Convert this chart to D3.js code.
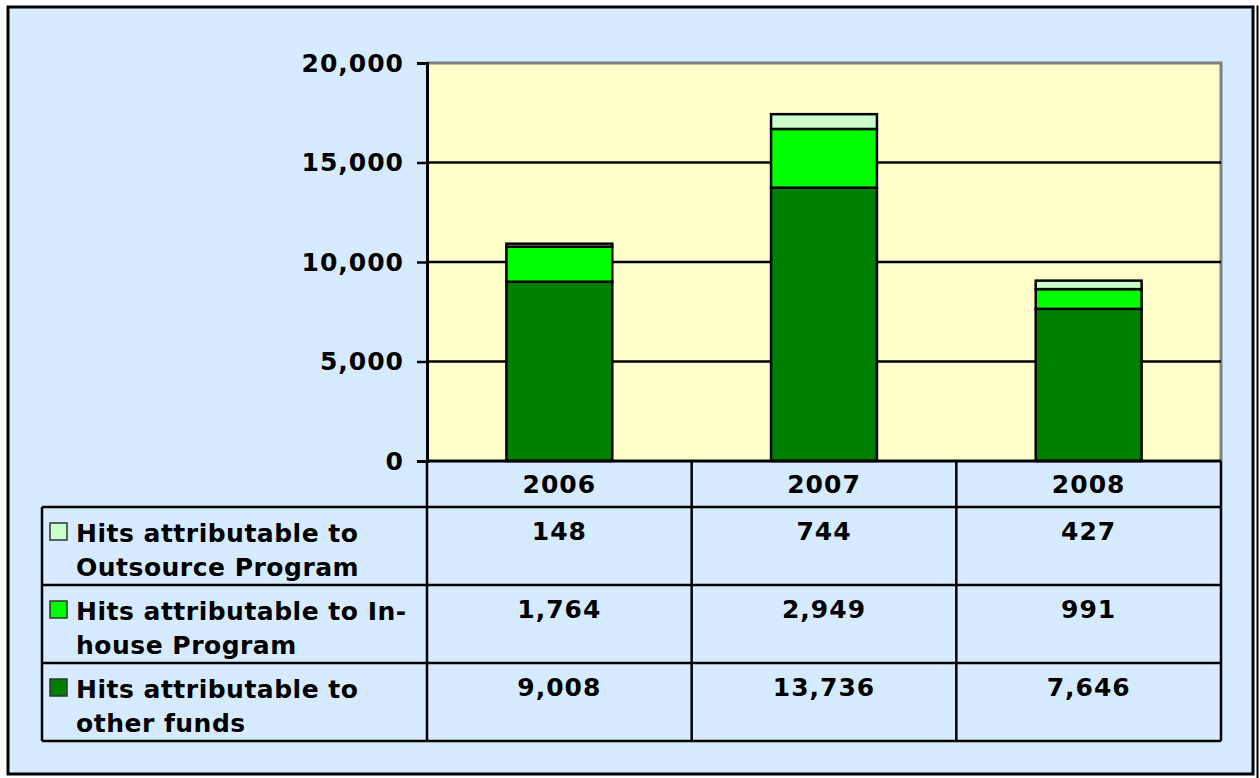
<!DOCTYPE html>
<html>
<head>
<meta charset="utf-8">
<script src="https://cdn.jsdelivr.net/npm/d3@7"></script>
<style>
  html, body { margin: 0; padding: 0; background: #ffffff; }
  svg { display: block; }
  text { font-family: "DejaVu Sans", Verdana, sans-serif; font-weight: bold; fill: #000; }
</style>
</head>
<body>
<svg id="chart" width="1260" height="778"></svg>
<script>
// ---- Data ----
const years = ["2006", "2007", "2008"];
const seriesNames = [
  ["Hits attributable to", "Outsource Program"],
  ["Hits attributable to In-", "house Program"],
  ["Hits attributable to", "other funds"]
];
const outsource = [148, 744, 427];
const inhouse = [1764, 2949, 991];
const otherFunds = [9008, 13736, 7646];
const yTicks = [0, 5000, 10000, 15000, 20000];
const seriesColors = ["#CCFFCC", "#00FF00", "#008000"];

// ---- Layout ----
const svg = d3.select("#chart");
const plot = { left: 427, right: 1221, top: 63, bottom: 461 };
const table = { left: 42, headerBottom: 507, rowH: 78 };

// outer frame
svg.append("rect").attr("x", 8).attr("y", 7).attr("width", 1245).attr("height", 767)
  .attr("fill", "#D6EBFF").attr("stroke", "#000").attr("stroke-width", 3);
svg.append("line").attr("x1", 1257.5).attr("x2", 1257.5).attr("y1", 5.5).attr("y2", 778)
  .attr("stroke", "#000").attr("stroke-width", 2);

const x = d3.scaleBand().domain(years).range([plot.left, plot.right])
  .paddingInner(0.6).paddingOuter(0.3);
const xCol = d3.scaleBand().domain(years).range([plot.left, plot.right]);
const y = d3.scaleLinear().domain([0, 20000]).range([plot.bottom, plot.top]);

// plot area
svg.append("rect").attr("x", plot.left).attr("y", plot.top)
  .attr("width", plot.right - plot.left).attr("height", plot.bottom - plot.top)
  .attr("fill", "#FFFFCC");
svg.append("path")
  .attr("d", `M${plot.left},${plot.top}H${plot.right}V${plot.bottom}`)
  .attr("fill", "none").attr("stroke", "#808080").attr("stroke-width", 3);

// gridlines
svg.append("g").selectAll("line").data(yTicks.filter(d => d > 0 && d < 20000)).join("line")
  .attr("x1", plot.left).attr("x2", plot.right)
  .attr("y1", d => y(d)).attr("y2", d => y(d))
  .attr("stroke", "#000").attr("stroke-width", 2.5);

// stacked bars
const rows = years.map((yr, i) => ({ year: yr, other: otherFunds[i], inhouse: inhouse[i], outsource: outsource[i] }));
const stack = d3.stack().keys(["other", "inhouse", "outsource"]);
const stacked = stack(rows);
const colorByKey = { other: seriesColors[2], inhouse: seriesColors[1], outsource: seriesColors[0] };
svg.append("g").selectAll("g").data(stacked).join("g")
  .attr("fill", d => colorByKey[d.key])
  .selectAll("rect").data(d => d).join("rect")
  .attr("x", d => x(d.data.year))
  .attr("width", x.bandwidth())
  .attr("y", d => y(d[1]))
  .attr("height", d => y(d[0]) - y(d[1]))
  .attr("stroke", "#000").attr("stroke-width", 2.5);

// y axis
const yAxis = d3.axisLeft(y).tickValues(yTicks).tickSize(10).tickPadding(13)
  .tickFormat(d3.format(","));
const ya = svg.append("g").attr("transform", `translate(${plot.left},0)`).call(yAxis);
ya.select(".domain").attr("stroke", "#000").attr("stroke-width", 3);
ya.selectAll(".tick line").attr("stroke", "#000").attr("stroke-width", 2.5);
ya.selectAll(".tick text").attr("font-size", 25).attr("font-family", "DejaVu Sans")
  .attr("font-weight", "bold").attr("fill", "#000").attr("letter-spacing", 1);

// ---- data table ----
const tbl = svg.append("g");
const tableBottom = table.headerBottom + 3 * table.rowH;
const lineAttr = sel => sel.attr("stroke", "#000").attr("stroke-width", 2.5);

// header year labels
tbl.selectAll("text.yr").data(years).join("text").attr("class", "yr")
  .attr("x", d => xCol(d) + xCol.bandwidth() / 2).attr("y", (plot.bottom + table.headerBottom) / 2 + 9)
  .attr("text-anchor", "middle").attr("font-size", 25).attr("letter-spacing", 1).text(d => d);

const tableSeries = [outsource, inhouse, otherFunds];
tableSeries.forEach((vals, r) => {
  const top = table.headerBottom + r * table.rowH;
  tbl.append("rect").attr("x", 50).attr("y", top + 16).attr("width", 17).attr("height", 17)
    .attr("fill", seriesColors[r]).attr("stroke", "#333").attr("stroke-width", 1.5);
  tbl.append("text").attr("x", 76).attr("y", top + 35).attr("font-size", 25).attr("letter-spacing", 0.5)
    .text(seriesNames[r][0]);
  tbl.append("text").attr("x", 76).attr("y", top + 69).attr("font-size", 25).attr("letter-spacing", 0.5)
    .text(seriesNames[r][1]);
  tbl.selectAll(null).data(vals).join("text")
    .attr("x", (d, i) => xCol(years[i]) + xCol.bandwidth() / 2).attr("y", top + 33)
    .attr("text-anchor", "middle").attr("font-size", 25).attr("letter-spacing", 1)
    .text(d => d3.format(",")(d));
});

// table grid lines
[table.headerBottom, table.headerBottom + table.rowH, table.headerBottom + 2 * table.rowH, tableBottom]
  .forEach(yy => tbl.append("line").attr("x1", table.left).attr("x2", plot.right)
    .attr("y1", yy).attr("y2", yy).call(lineAttr));
tbl.append("line").attr("x1", table.left).attr("x2", table.left)
  .attr("y1", table.headerBottom).attr("y2", tableBottom).call(lineAttr);
[plot.left, ...years.slice(1).map(d => xCol(d)), plot.right].forEach(xx =>
  tbl.append("line").attr("x1", xx).attr("x2", xx).attr("y1", plot.bottom).attr("y2", tableBottom).call(lineAttr));
// x axis baseline
tbl.append("line").attr("x1", plot.left).attr("x2", plot.right)
  .attr("y1", plot.bottom).attr("y2", plot.bottom).attr("stroke", "#000").attr("stroke-width", 3);
</script>
</body>
</html>
